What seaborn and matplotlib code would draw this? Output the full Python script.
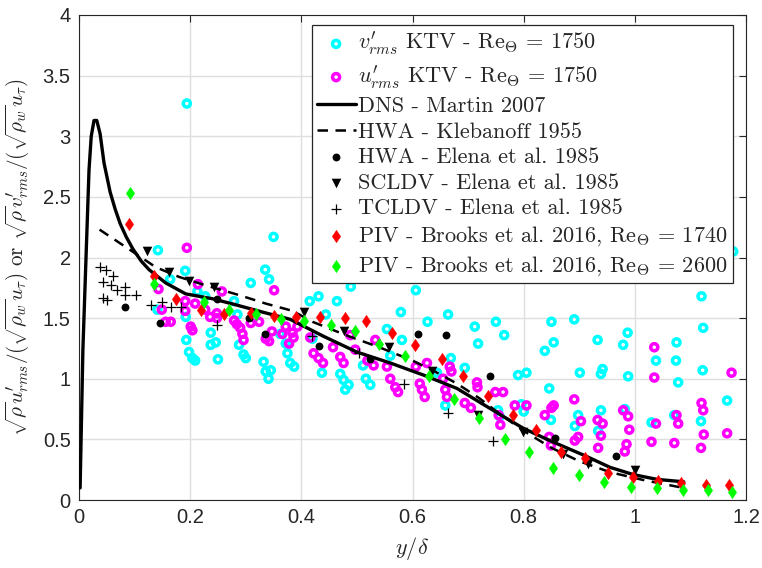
import numpy as np
import pandas as pd
import matplotlib
matplotlib.use("Agg")
import matplotlib.pyplot as plt
import seaborn as sns
from matplotlib.path import Path
from matplotlib.ticker import FixedLocator, FormatStrFormatter

# ---------------- data ----------------
# v'_rms KTV (cyan open circles)
v_x = [0.194, 0.142, 0.35, 0.191, 0.164, 0.309, 0.335, 0.342, 0.279, 0.213, 0.227, 0.285, 0.192,
       0.141, 0.237, 0.193, 0.198, 0.204, 0.209, 0.237, 0.246, 0.25, 0.288, 0.296, 0.30, 0.332,
       0.336, 0.345, 0.341, 0.362, 0.372, 0.375, 0.38, 0.387, 0.415, 0.431, 0.464, 0.489, 0.606,
       0.444, 0.42, 0.437, 0.47, 0.476, 0.485, 0.479, 0.516, 0.524, 0.511, 0.554, 0.579, 0.581,
       0.56, 0.627, 0.664, 0.712, 0.75, 0.765, 0.718, 0.669, 0.644, 0.694, 0.659, 0.754, 0.757,
       1.12, 0.85, 0.891, 0.854, 0.838, 0.933, 0.987, 0.979, 1.123, 1.075, 1.038, 1.074, 1.078,
       1.122, 1.166, 0.79, 0.805, 0.901, 0.939, 0.942, 0.988, 0.846, 0.796, 0.80, 0.849, 0.898,
       0.892, 0.939, 0.934, 0.982, 1.03, 1.071, 1.119, 1.177]
v_y = [3.27, 2.06, 2.17, 1.89, 1.82, 1.79, 1.90, 1.82, 1.64, 1.72, 1.68, 1.53, 1.51,
       1.57, 1.38, 1.32, 1.22, 1.17, 1.15, 1.28, 1.30, 1.16, 1.28, 1.20, 1.17, 1.14,
       1.06, 1.07, 1.00, 1.37, 1.29, 1.21, 1.13, 1.10, 1.64, 1.68, 1.64, 1.76, 1.73,
       1.53, 1.33, 1.05, 1.04, 0.99, 0.95, 0.91, 1.00, 0.95, 1.11, 1.41, 1.55, 1.32,
       1.19, 1.47, 1.53, 1.43, 1.47, 1.36, 1.29, 1.17, 1.05, 1.09, 0.78, 0.74, 0.69,
       1.68, 1.47, 1.49, 1.30, 1.23, 1.32, 1.38, 1.28, 1.42, 1.30, 1.15, 1.15, 0.97,
       1.07, 0.82, 1.03, 1.05, 1.05, 1.04, 1.08, 1.02, 0.92, 0.79, 0.73, 0.66, 0.70,
       0.61, 0.74, 0.57, 0.75, 0.64, 0.70, 0.65, 2.05]

# u'_rms KTV (magenta open circles)
u_x = [0.194, 0.214, 0.257, 0.351, 0.143, 0.149, 0.191, 0.191, 0.209, 0.227, 0.236, 0.248, 0.248,
       0.156, 0.165, 0.201, 0.204, 0.279, 0.284, 0.29, 0.294, 0.296, 0.309, 0.324, 0.336, 0.342,
       0.347, 0.366, 0.372, 0.378, 0.384, 0.393, 0.386, 0.416, 0.422, 0.431, 0.439, 0.457, 0.47,
       0.476, 0.488, 0.497, 0.519, 0.53, 0.533, 0.554, 0.56, 0.569, 0.574, 0.606, 0.613, 0.617,
       0.626, 0.622, 0.655, 0.659, 0.662, 0.667, 0.67, 0.694, 0.705, 0.716, 0.717, 0.749, 0.763,
       0.758, 0.755, 0.784, 1.035, 1.035, 1.174, 0.805, 0.838, 0.85, 0.854, 0.891, 0.903, 0.898,
       0.892, 0.846, 0.849, 0.933, 0.942, 0.939, 0.934, 0.979, 0.988, 0.99, 0.985, 0.982, 1.03,
       1.038, 1.071, 1.075, 1.078, 1.12, 1.123, 1.124, 1.119, 1.166]
u_y = [2.08, 1.78, 1.72, 1.73, 1.74, 1.57, 1.64, 1.56, 1.62, 1.57, 1.51, 1.54, 1.50,
       1.47, 1.47, 1.43, 1.40, 1.48, 1.45, 1.42, 1.37, 1.32, 1.46, 1.47, 1.33, 1.31,
       1.39, 1.37, 1.43, 1.29, 1.38, 1.43, 1.34, 1.34, 1.21, 1.17, 1.13, 1.26, 1.18,
       1.13, 1.36, 1.24, 1.15, 1.11, 1.32, 1.10, 1.00, 0.93, 0.89, 1.10, 0.96, 0.91,
       1.13, 0.85, 1.00, 0.91, 0.85, 1.10, 1.06, 0.80, 0.76, 0.97, 0.93, 0.89, 0.89,
       0.62, 0.70, 0.78, 1.26, 1.01, 1.05, 0.78, 0.70, 0.76, 0.78, 0.83, 0.65, 0.52,
       0.49, 0.52, 0.45, 0.66, 0.63, 0.53, 0.43, 0.74, 0.69, 0.58, 0.46, 0.40, 0.48,
       0.63, 0.47, 0.70, 0.63, 0.80, 0.74, 0.54, 0.43, 0.55]

# DNS - Martin 2007
dns_x = [0.002, 0.007, 0.013, 0.018, 0.022, 0.027, 0.032, 0.038, 0.045, 0.056, 0.065, 0.074,
         0.085, 0.097, 0.112, 0.126, 0.156, 0.192, 0.24, 0.282, 0.33, 0.38, 0.44, 0.50, 0.56,
         0.62, 0.68, 0.716, 0.763, 0.80, 0.847, 0.913, 0.955, 0.997, 1.04, 1.088]
dns_y = [0.10, 1.24, 2.05, 2.72, 3.00, 3.13, 3.13, 3.02, 2.78, 2.54, 2.40, 2.28,
         2.17, 2.07, 1.97, 1.90, 1.79, 1.70, 1.66, 1.61, 1.55, 1.49, 1.35, 1.22, 1.13,
         1.03, 0.92, 0.82, 0.69, 0.59, 0.49, 0.36, 0.27, 0.21, 0.17, 0.15]

# HWA - Klebanoff 1955
kl_x = [0.037, 0.096, 0.138, 0.18, 0.228, 0.288, 0.336, 0.384, 0.42, 0.48, 0.54, 0.60, 0.64,
        0.68, 0.72, 0.76, 0.80, 0.85, 0.90, 0.955, 1.015, 1.087]
kl_y = [2.23, 2.05, 1.92, 1.84, 1.77, 1.69, 1.62, 1.56, 1.47, 1.36, 1.26, 1.15, 1.06,
        0.96, 0.84, 0.70, 0.57, 0.43, 0.32, 0.23, 0.165, 0.10]

# HWA - Elena et al. 1985
hwa_x = [0.082, 0.145, 0.249, 0.306, 0.334, 0.432, 0.524, 0.609, 0.66, 0.739, 0.856, 0.967]
hwa_y = [1.59, 1.46, 1.66, 1.50, 1.37, 1.27, 1.16, 1.37, 1.36, 1.02, 0.51, 0.36]

# SCLDV - Elena et al. 1985
sc_x = [0.123, 0.162, 0.198, 0.243, 0.404, 0.476, 0.557, 0.635, 0.717, 0.798, 0.871, 0.915, 1.0]
sc_y = [2.05, 1.88, 1.81, 1.76, 1.55, 1.39, 1.26, 1.06, 0.70, 0.56, 0.38, 0.30, 0.25]

# TCLDV - Elena et al. 1985
tc_x = [0.037, 0.048, 0.062, 0.043, 0.057, 0.069, 0.083, 0.083, 0.103, 0.043, 0.051, 0.129,
        0.149, 0.165, 0.183, 0.248, 0.419, 0.503, 0.585, 0.664, 0.745]
tc_y = [1.92, 1.90, 1.85, 1.80, 1.77, 1.73, 1.76, 1.69, 1.69, 1.67, 1.65, 1.61,
        1.63, 1.59, 1.59, 1.44, 1.35, 1.21, 0.96, 0.72, 0.49]

# PIV - Brooks et al. 2016, Re=1740
p1_x = [0.09, 0.135, 0.175, 0.219, 0.261, 0.309, 0.351, 0.39, 0.434, 0.479, 0.516, 0.564, 0.605,
        0.653, 0.691, 0.736, 0.78, 0.822, 0.867, 0.91, 0.951, 0.997, 1.041, 1.083, 1.128, 1.17]
p1_y = [2.28, 1.85, 1.66, 1.57, 1.53, 1.54, 1.52, 1.51, 1.51, 1.50, 1.48, 1.38, 1.28,
        1.16, 1.02, 0.86, 0.70, 0.58, 0.40, 0.35, 0.225, 0.187, 0.16, 0.14, 0.12, 0.125]

# PIV - Brooks et al. 2016, Re=2600
p2_x = [0.091, 0.135, 0.225, 0.269, 0.318, 0.363, 0.405, 0.453, 0.497, 0.539, 0.587, 0.63,
        0.675, 0.72, 0.766, 0.81, 0.852, 0.9, 0.945, 0.994, 1.04, 1.086, 1.132, 1.175]
p2_y = [2.53, 1.78, 1.63, 1.57, 1.53, 1.49, 1.48, 1.44, 1.39, 1.29, 1.19, 1.02,
        0.83, 0.68, 0.50, 0.40, 0.26, 0.21, 0.15, 0.11, 0.10, 0.08, 0.08, 0.07]

labels = [r"$v^{\prime}_{rms}$ KTV - Re$_\Theta$ = 1750",
          r"$u^{\prime}_{rms}$ KTV - Re$_\Theta$ = 1750",
          "DNS - Martin 2007",
          "HWA - Klebanoff 1955",
          "HWA - Elena et al. 1985",
          "SCLDV - Elena et al. 1985",
          "TCLDV - Elena et al. 1985",
          r"PIV - Brooks et al. 2016, Re$_\Theta$ = 1740",
          r"PIV - Brooks et al. 2016, Re$_\Theta$ = 2600"]

x_ticks = [0, 0.2, 0.4, 0.6, 0.8, 1.0, 1.2]
y_ticks = [0, 0.5, 1, 1.5, 2, 2.5, 3, 3.5, 4]

# ---------------- style ----------------
sns.set_theme(style="whitegrid")
plt.rcParams.update({
    "mathtext.fontset": "cm",
    "axes.edgecolor": "#262626",
    "axes.linewidth": 0.8,
    "grid.color": "#dedede",
    "grid.linewidth": 1.0,
    "xtick.color": "#262626",
    "ytick.color": "#262626",
})
plt.rcParams["font.family"] = ["Liberation Sans", "DejaVu Sans"]

fig = plt.figure(figsize=(7.62, 5.68), dpi=100)
ax = fig.add_axes([79 / 762, 68 / 568, 667 / 762, 485 / 568])

diamond = Path([(0, 1), (0.68, 0), (0, -1), (-0.68, 0), (0, 1)],
               [Path.MOVETO, Path.LINETO, Path.LINETO, Path.LINETO, Path.CLOSEPOLY])

sns.scatterplot(x=v_x, y=v_y, ax=ax, marker="o", s=26, facecolor="none",
                edgecolor="#00ffff", linewidth=2.5, zorder=3, label=labels[0])
sns.scatterplot(x=u_x, y=u_y, ax=ax, marker="o", s=26, facecolor="none",
                edgecolor="#ff00ff", linewidth=2.5, zorder=4, label=labels[1])
sns.lineplot(x=dns_x, y=dns_y, ax=ax, sort=False, estimator=None, color="black",
             linewidth=2.4, zorder=5, label=labels[2])
sns.lineplot(x=kl_x, y=kl_y, ax=ax, sort=False, estimator=None, color="black",
             linewidth=1.8, linestyle=(0, (4.2, 3.0)), zorder=6, label=labels[3])
sns.scatterplot(x=hwa_x, y=hwa_y, ax=ax, marker="o", s=32, color="black",
                edgecolor="black", linewidth=0, zorder=7, label=labels[4])
sns.scatterplot(x=sc_x, y=sc_y, ax=ax, marker="v", s=48, color="black",
                edgecolor="black", linewidth=0, zorder=8, label=labels[5])
sns.scatterplot(x=tc_x, y=tc_y, ax=ax, marker="+", s=55, color="black",
                linewidth=0.9, zorder=9, label=labels[6])
sns.scatterplot(x=p1_x, y=p1_y, ax=ax, marker=diamond, s=80, color="#ff0000",
                edgecolor="#ff0000", linewidth=0.3, zorder=10, label=labels[7])
sns.scatterplot(x=p2_x, y=p2_y, ax=ax, marker=diamond, s=80, color="#00ff00",
                edgecolor="#00ff00", linewidth=0.3, zorder=11, label=labels[8])

ax.set_xlim(0, 1.2)
ax.set_ylim(0, 4)
ax.xaxis.set_major_locator(FixedLocator(x_ticks))
ax.yaxis.set_major_locator(FixedLocator(y_ticks))
ax.xaxis.set_major_formatter(FormatStrFormatter("%g"))
ax.yaxis.set_major_formatter(FormatStrFormatter("%g"))
ax.tick_params(direction="in", length=5, width=0.8, top=True, right=True,
               labelsize=14.5, pad=6, colors="#262626")
ax.set_axisbelow(True)
ax.grid(True)
for sp in ax.spines.values():
    sp.set_visible(True)
    sp.set_color("#262626")
    sp.set_linewidth(0.8)

ax.set_xlabel(r"$y/\delta$", fontsize=16)
ax.set_ylabel(r"$\sqrt{\rho}u^{\prime}_{rms}/(\sqrt{\rho_w}u_\tau)$ or "
              r"$\sqrt{\rho}v^{\prime}_{rms}/(\sqrt{\rho_w}u_\tau)$",
              fontsize=15.2, family="cmr10")
ax.xaxis.set_label_coords(0.5, -0.072)
ax.yaxis.set_label_coords(-0.07, 0.5)

handles, labs = ax.get_legend_handles_labels()
order = [labs.index(l) for l in labels]
leg = ax.legend([handles[i] for i in order], [labs[i] for i in order],
                loc="upper right", bbox_to_anchor=(0.98, 0.979), borderaxespad=0,
                prop={"family": "cmr10", "size": 16}, frameon=True, fancybox=False,
                framealpha=1, edgecolor="#262626", handlelength=1.75, handletextpad=0.12,
                labelspacing=0.27, borderpad=0.22, scatterpoints=1)
leg.get_frame().set_linewidth(0.9)
leg.set_zorder(20)

fig.savefig("out.png", dpi=100)
